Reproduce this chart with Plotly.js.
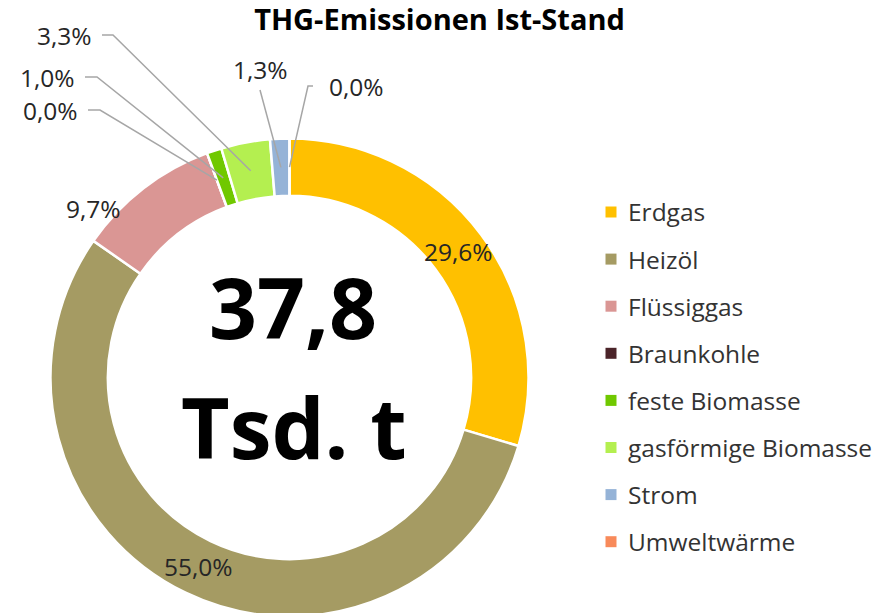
<!DOCTYPE html>
<html><head><meta charset="utf-8">
<script src="https://cdn.plot.ly/plotly-3.0.1.min.js"></script>
<style>html,body{margin:0;padding:0;background:#fff;overflow:hidden;width:879px;height:613px}
#wrap{width:879px;height:613px;overflow:hidden;position:relative}</style>
</head><body><div id="wrap"><div id="chart" style="width:879px;height:618px"></div></div>
<script>
// ---- data ----
const categories = ['Erdgas','Heizöl','Flüssiggas','Braunkohle','feste Biomasse','gasförmige Biomasse','Strom','Umweltwärme'];
const shares = [29.6, 55.0, 9.7, 0.0, 1.0, 3.3, 1.3, 0.0];
const colors = ['#FFC000','#A59B63','#DA9694','#4B2429','#70C800','#B4EF50','#95B3D7','#F88A5A'];
const totalValue = '37,8';
const totalUnit = 'Tsd. t';
const chartTitle = 'THG-Emissionen Ist-Stand';

// ---- layout geometry ----
const W = 879, H = 618;
const cx = 289.5, cy = 377.5, R = 239, hole = 0.76;
const X = px => px / W, Y = py => 1 - py / H;
const FONT = '"Open Sans", "Noto Sans", sans-serif';
const TXT = '#262626';

// label placement per slice (layout): inside ring, free text, or with leader line
const labelPlace = [
  {mode:'ring'},
  {mode:'ring'},
  {mode:'free', x:93, y:208},
  {mode:'leader', x:50, y:110, path:[[88,110],[100,110]]},
  {mode:'leader', x:47.5, y:77, path:[[85,77],[97,77]]},
  {mode:'leader', x:64.5, y:35, path:[[102,35],[113,35]]},
  {mode:'leader', x:260, y:70, path:[[260,90]]},
  {mode:'leader', x:356, y:86, path:[[313,86],[308,86]]}
];

const total = shares.reduce((a,b)=>a+b,0);
const rMid = R * (1 + hole) / 2;
const fmt = v => v.toFixed(1).replace('.', ',') + '%';

const annotations = [];
const shapes = [];
let cum = 0;
shares.forEach((v, i) => {
  const f = (cum + v / 2) / total;
  cum += v;
  const th = 2 * Math.PI * f;
  const ax = cx + rMid * Math.sin(th), ay = cy - rMid * Math.cos(th);
  const p = labelPlace[i];
  let lx, ly;
  if (p.mode === 'ring') { lx = ax; ly = ay; }
  else { lx = p.x; ly = p.y; }
  annotations.push({xref:'paper', yref:'paper', x:X(lx), y:Y(ly), xanchor:'center', yanchor:'middle',
    text: fmt(v), showarrow:false, font:{family:FONT, size:24.5, color:TXT}});
  if (p.mode === 'leader') {
    const pts = p.path.concat([[ax, ay]]);
    const d = pts.map((q, k) => (k ? 'L' : 'M') + X(q[0]).toFixed(5) + ',' + Y(q[1]).toFixed(5)).join(' ');
    shapes.push({type:'path', xref:'paper', yref:'paper', path:d, line:{color:'#A6A6A6', width:1.5}});
  }
});

// center total
annotations.push({xref:'paper', yref:'paper', x:X(293), y:Y(306), text:'<b>'+totalValue+'</b>', showarrow:false,
  xanchor:'center', yanchor:'middle', font:{family:FONT, size:84, color:'#000'}});
annotations.push({xref:'paper', yref:'paper', x:X(294), y:Y(426), text:'<b>'+totalUnit+'</b>', showarrow:false,
  xanchor:'center', yanchor:'middle', font:{family:FONT, size:84, color:'#000'}});

// custom legend
const legX = 611, legY0 = 212, legStep = 47.1, sq = 11;
categories.forEach((c, i) => {
  const y = legY0 + i * legStep;
  shapes.push({type:'rect', xref:'paper', yref:'paper', x0:X(legX - sq/2), x1:X(legX + sq/2),
    y0:Y(y + sq/2), y1:Y(y - sq/2), fillcolor:colors[i], line:{width:0}});
  annotations.push({xref:'paper', yref:'paper', x:X(626), y:Y(y), xanchor:'left', yanchor:'middle',
    text:c, showarrow:false, font:{family:FONT, size:24.5, color:'#333333'}});
});

const trace = {
  type:'pie', labels:categories, values:shares, sort:false, direction:'clockwise', rotation:0,
  hole:hole, marker:{colors:colors, line:{color:'#FFFFFF', width:2.5}},
  textinfo:'none', hoverinfo:'label+percent', showlegend:false,
  domain:{x:[X(cx - R), X(cx + R)], y:[(H - cy - R) / H, (H - cy + R) / H]}
};

const layout = {
  width:W, height:H, margin:{l:0, r:0, t:0, b:0}, paper_bgcolor:'#fff', plot_bgcolor:'#fff',
  showlegend:false,
  title:{text:'<b>'+chartTitle+'</b>', x:0.5, xanchor:'center', y:Y(20), yanchor:'middle', yref:'container',
    font:{family:FONT, size:29, color:'#000'}},
  annotations:annotations, shapes:shapes
};
Plotly.newPlot('chart', [trace], layout, {displayModeBar:false, staticPlot:true});
</script></body></html>
